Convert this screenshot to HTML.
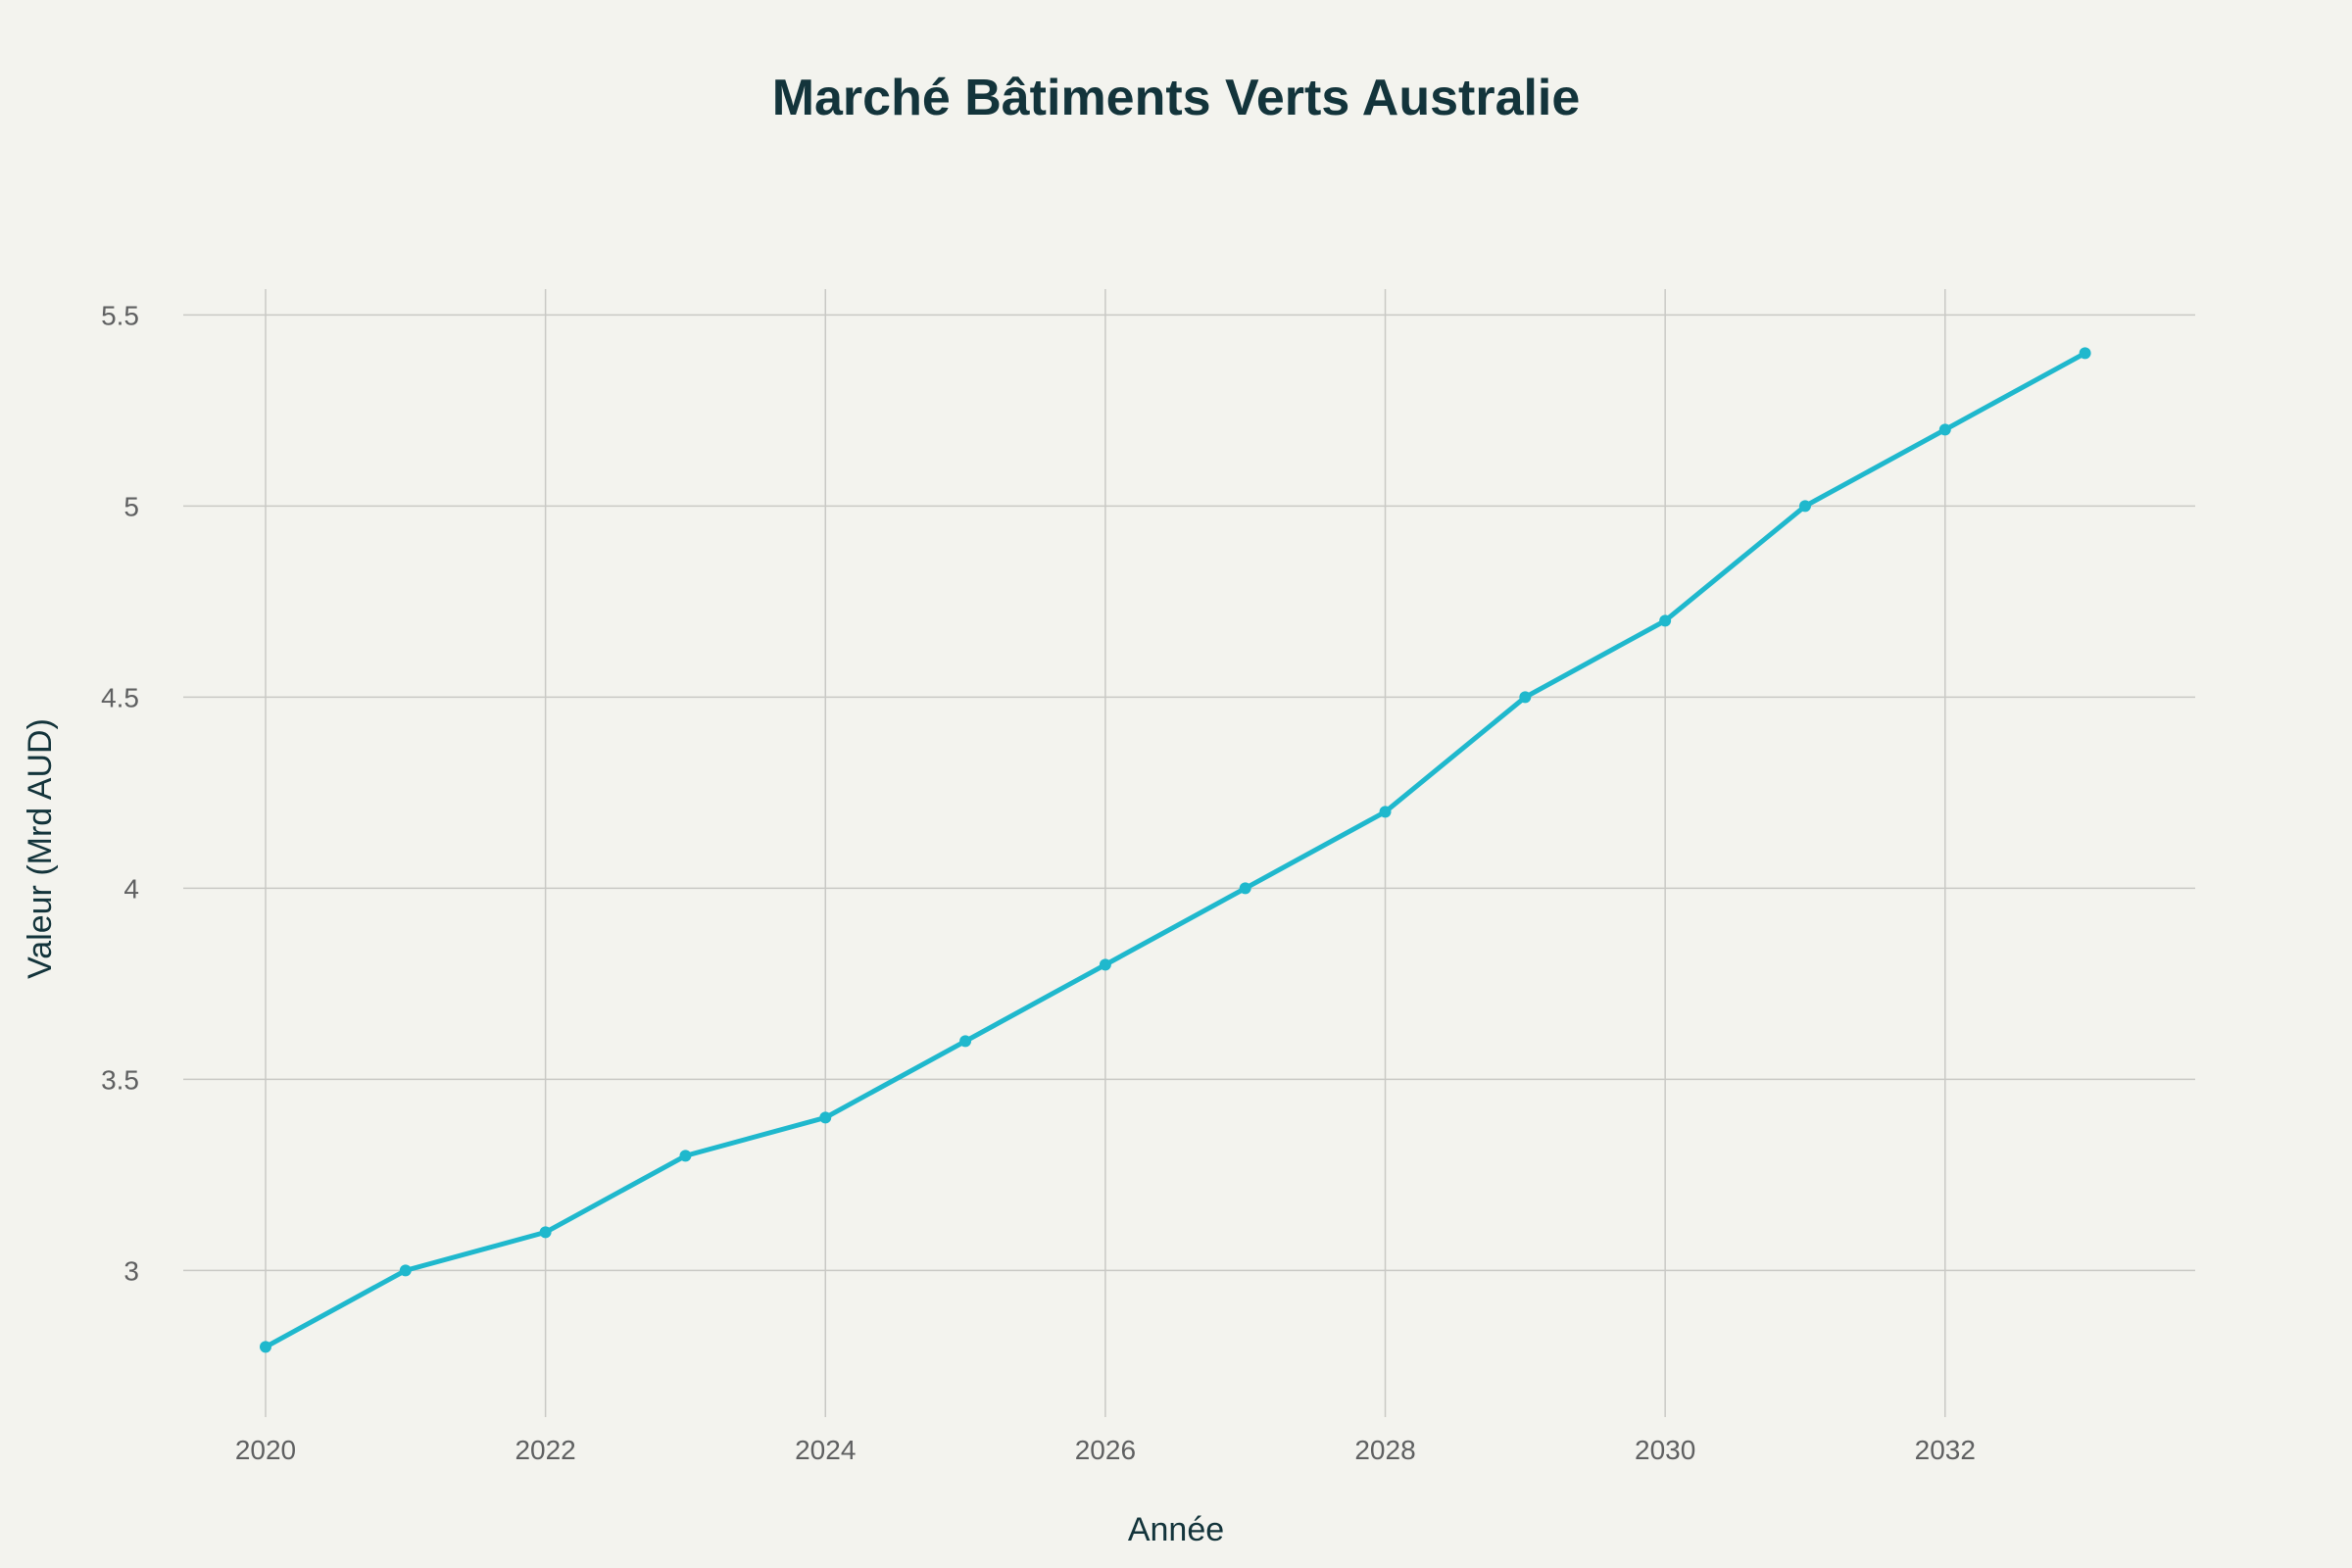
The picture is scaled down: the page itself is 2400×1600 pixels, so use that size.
<!DOCTYPE html>
<html><head><meta charset="utf-8"><style>
html,body{margin:0;padding:0;background:#F3F3EE;}
svg{display:block;font-family:"Liberation Sans",sans-serif;}
</style></head><body>
<svg id="chart" width="2400" height="1600" viewBox="0 0 2400 1600">
<rect width="2400" height="1600" fill="#F3F3EE"/>
<text x="1200" y="117" text-anchor="middle" font-size="52" font-weight="bold" fill="#13343B">Marché Bâtiments Verts Australie</text>
<g id="grid"></g>
<g id="xticks"></g>
<g id="yticks"></g>
<g id="series"></g>
<text x="1200" y="1572" text-anchor="middle" font-size="34" fill="#13343B">Année</text>
<text transform="translate(52,866) rotate(-90)" text-anchor="middle" font-size="34" fill="#13343B">Valeur (Mrd AUD)</text>
</svg>
<script>
const years=[2020,2021,2022,2023,2024,2025,2026,2027,2028,2029,2030,2031,2032,2033];
const values=[2.8,3.0,3.1,3.3,3.4,3.6,3.8,4.0,4.2,4.5,4.7,5.0,5.2,5.4];
const xTicks=[2020,2022,2024,2026,2028,2030,2032];
const yTicks=[3,3.5,4,4.5,5,5.5];
const yTickLabels=["3","3.5","4","4.5","5","5.5"];
const NS="http://www.w3.org/2000/svg";
const L=187,R=2240,T=295,B=1446;
function xs(v){return 271+(v-2020)*(2127.6-271)/13;}
function ys(v){return 1296.4-(v-3)*(1296.4-321.4)/2.5;}
function mk(tag,attrs,parent){const e=document.createElementNS(NS,tag);for(const k in attrs)e.setAttribute(k,attrs[k]);parent.appendChild(e);return e;}
const grid=document.getElementById('grid'),xg=document.getElementById('xticks'),yg=document.getElementById('yticks'),sg=document.getElementById('series');
xTicks.forEach(t=>{
 const l=mk('line',{x1:xs(t),x2:xs(t),y1:T,y2:B,stroke:'#C9C9C5','stroke-width':1.5},grid);
 
 
 const tx=mk('text',{x:xs(t),y:1489,'text-anchor':'middle','font-size':28,fill:'#5F6061'},xg);
 tx.textContent=t;
 
 
});
yTicks.forEach((t,i)=>{
 const l=mk('line',{x1:L,x2:R,y1:ys(t),y2:ys(t),stroke:'#C9C9C5','stroke-width':1.5},grid);
 
 
 const tx=mk('text',{x:142,y:ys(t)+10,'text-anchor':'end','font-size':28,fill:'#5F6061'},yg);
 tx.textContent=yTickLabels[i];
 
 
});
const pts=years.map((y,i)=>xs(y)+','+ys(values[i])).join(' ');
const pl=mk('polyline',{points:pts,fill:'none',stroke:'#1FB8CD','stroke-width':5,'stroke-linejoin':'round'},sg);


years.forEach((y,i)=>{
 const c=mk('circle',{cx:xs(y),cy:ys(values[i]),r:6,fill:'#1FB8CD'},sg);
 
 
});
</script>
</body></html>
